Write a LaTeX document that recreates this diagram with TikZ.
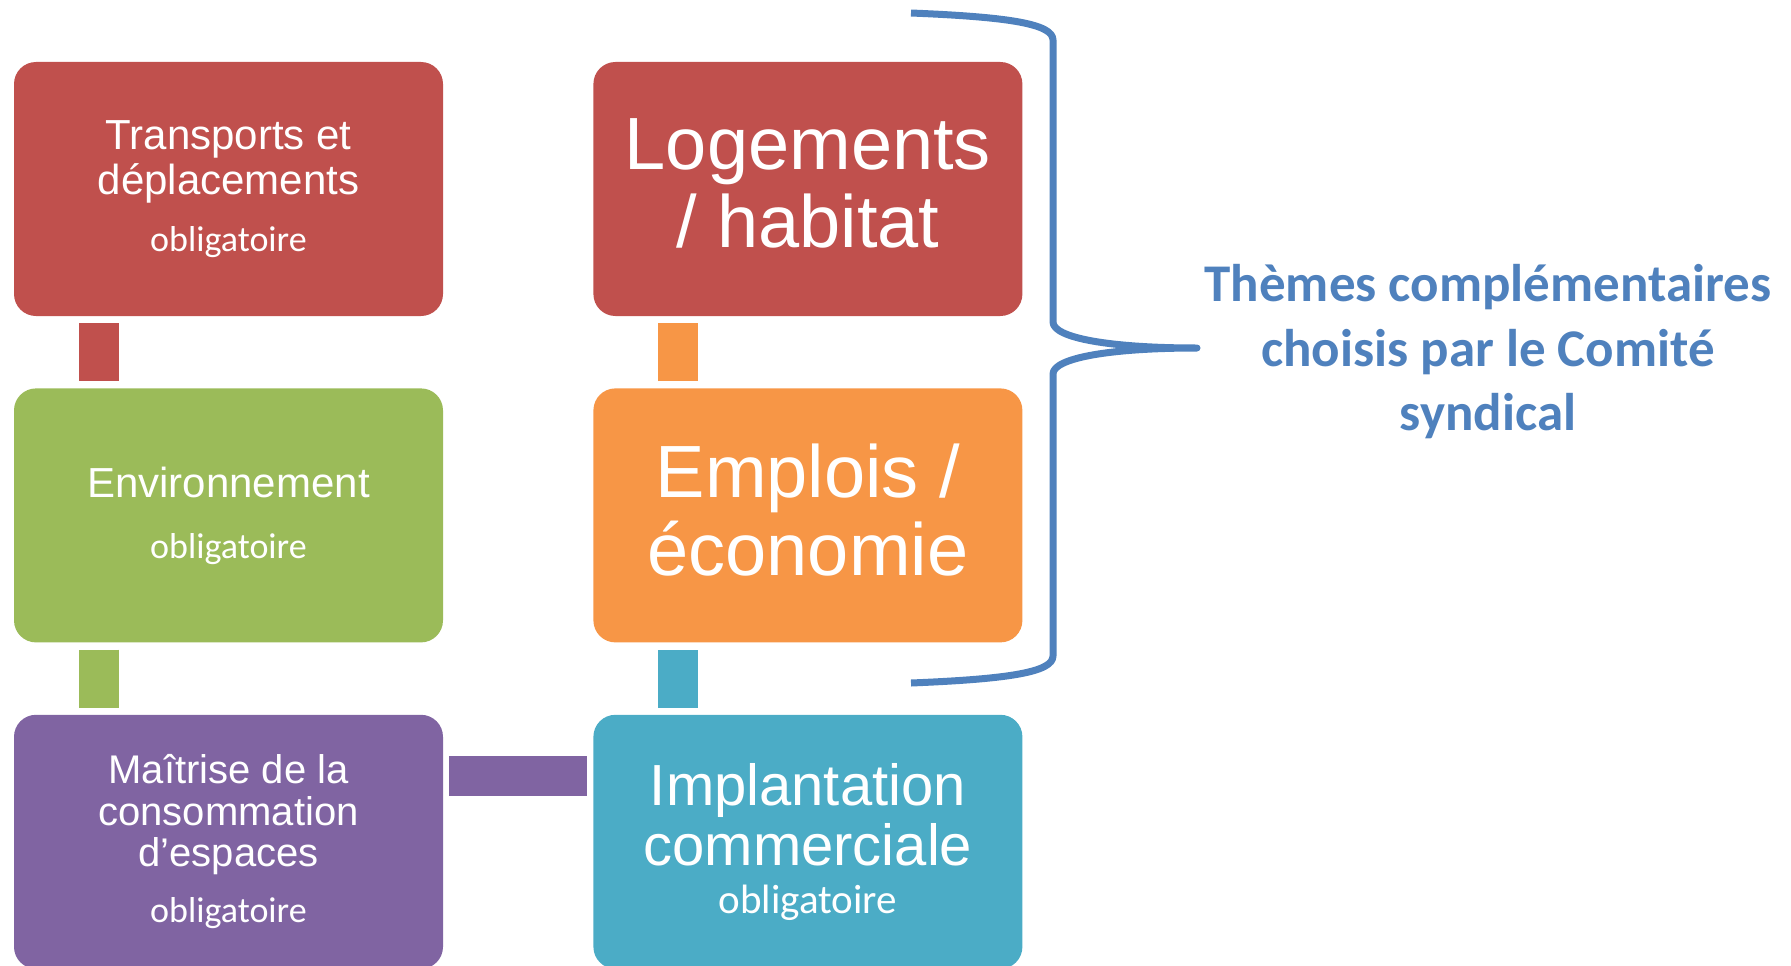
\documentclass[tikz,border=0pt]{standalone}
\usepackage{fontspec}
\setmainfont{Liberation Sans}
\newfontfamily\calibri{Carlito}
\usepackage{tikz}
\usetikzlibrary{positioning}
\definecolor{redT}{HTML}{C0504D}
\definecolor{greenT}{HTML}{9BBB59}
\definecolor{orangeT}{HTML}{F79646}
\definecolor{purpleT}{HTML}{8064A2}
\definecolor{aquaT}{HTML}{4BACC6}
\definecolor{blueT}{HTML}{4F81BD}
\newcommand{\oblig}[1]{{\calibri\fontsize{#1}{#1}\selectfont obligatoire}}

\begin{document}
\begin{tikzpicture}[x=1pt, y=-1pt, node distance=72pt and 150pt,
	theme/.style={fill=#1, rounded corners=22pt, minimum width=429pt,
		minimum height=254pt, inner sep=0pt, text=white, align=center},
	link/.style={draw=#1, line width=40pt, shorten <=7pt, shorten >=7pt}]
	\useasboundingbox (0,0) rectangle (1791,966);

	% left column
	\node[theme=redT, font=\fontsize{42}{45}\selectfont] (transports) at (228.5,189)
		{Transports et\\déplacements\\[12pt]\oblig{36}};
	\node[theme=greenT, font=\fontsize{42}{45}\selectfont, below=of transports] (environnement)
		{Environnement\\[16pt]\oblig{36}};
	\node[theme=purpleT, font=\fontsize{40}{41.5}\selectfont, below=of environnement] (maitrise)
		{Maîtrise de la\\consommation\\d’espaces\\[14.5pt]\oblig{36}};

	% right column
	\node[theme=redT, font=\fontsize{74}{78}\selectfont, text depth=12pt, right=of transports] (logements)
		{Logements\\/ habitat};
	\node[theme=orangeT, font=\fontsize{74}{78}\selectfont, text depth=12pt, right=of environnement] (emplois)
		{Emplois /\\économie};
	\node[theme=aquaT, font=\fontsize{58}{60}\selectfont, right=of maitrise] (implantation)
		{Implantation\\commerciale\\[-12pt]\oblig{41}};

	\draw[link=redT] ([xshift=85pt]transports.south west) -- ([xshift=85pt]environnement.north west);
	\draw[link=greenT] ([xshift=85pt]environnement.south west) -- ([xshift=85pt]maitrise.north west);
	\draw[link=purpleT, shorten <=6pt, shorten >=6pt] ([yshift=-61pt]maitrise.north east) -- ([yshift=-61pt]implantation.north west);
	\draw[link=aquaT] ([xshift=85pt]implantation.north west) -- ([xshift=85pt]emplois.south west);
	\draw[link=orangeT] ([xshift=85pt]emplois.north west) -- ([xshift=85pt]logements.south west);

	% brace
	\draw[blueT, line width=7pt, line join=round] (911,13) .. controls (1010,17) and (1053,24) .. (1053,40)
		-- (1053,322) .. controls (1053,338) and (1110,348) .. (1197,348)
		.. controls (1110,348) and (1053,358) .. (1053,374)
		-- (1053,656) .. controls (1053,672) and (1010,679) .. (911,683);
	\node[text=blueT, font=\calibri\bfseries\fontsize{53}{64.5}\selectfont, align=center,
		text height=167pt, text depth=11pt] (themes) at (1488,352.5)
		{Thèmes complémentaires\\choisis par le Comité\\syndical};
\end{tikzpicture}
\end{document}
